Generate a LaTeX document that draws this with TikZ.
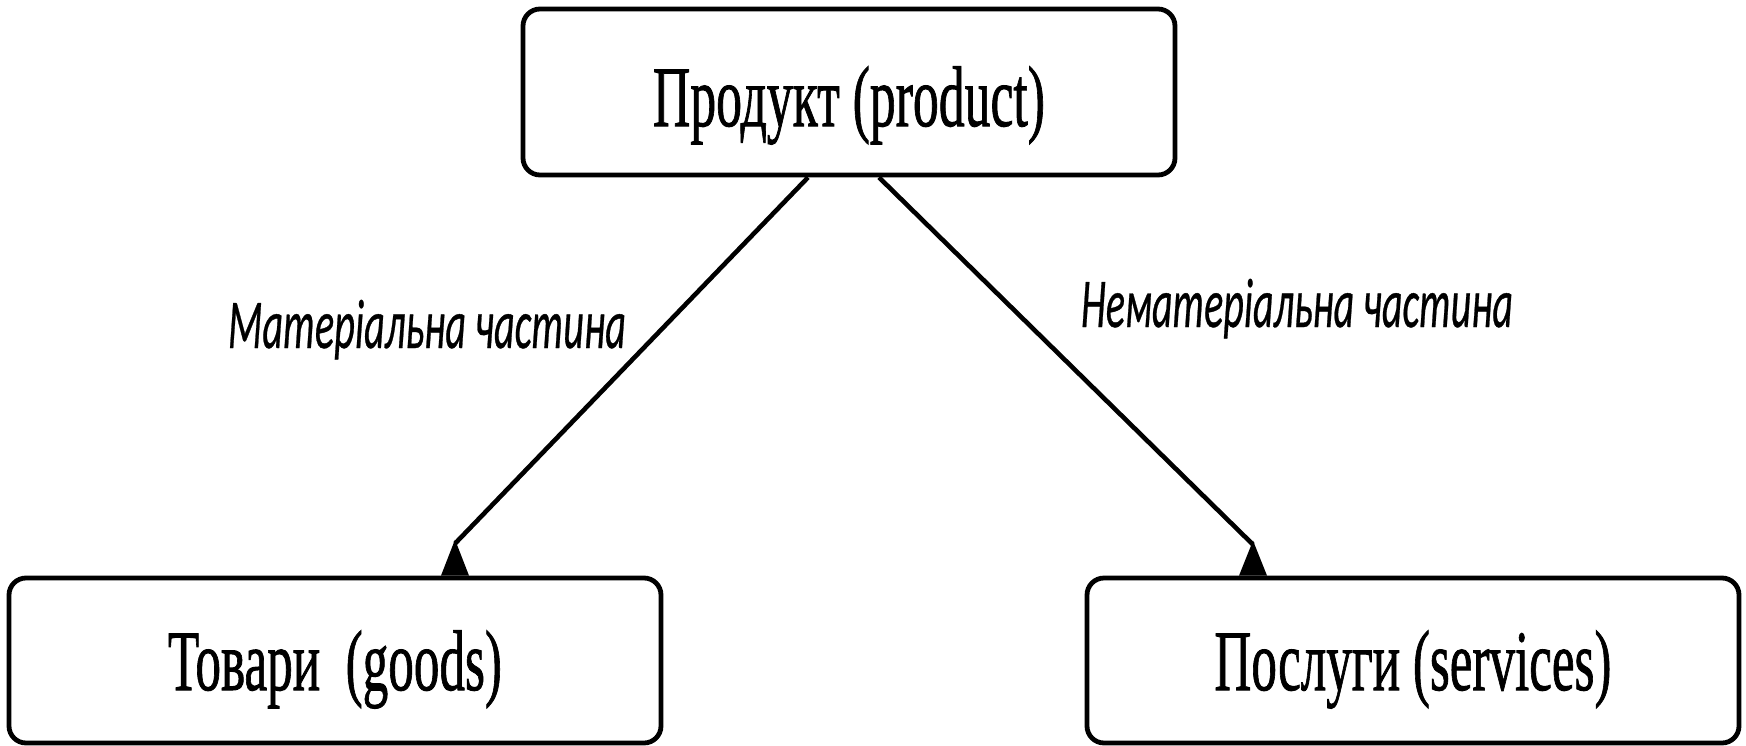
\documentclass[tikz,border=0pt]{standalone}
\usepackage{fontspec}
\usepackage{graphicx}
\setmainfont{Liberation Serif}
\newfontfamily\boxfont[FakeBold=1.2]{Liberation Serif}
\newfontfamily\labelfont[FakeBold=0.6]{Carlito}
\usetikzlibrary{calc}
\tikzset{
  box/.style={draw=black, line width=2.4pt, rounded corners=8.5pt, fill=white,
    minimum width=326pt, inner sep=0pt, align=center},
  conn/.style={draw=black, line width=2.3pt},
  lbl/.style={anchor=base, inner sep=0pt},
}
\begin{document}
\begin{tikzpicture}[x=0.5pt, y=-0.5pt]
\useasboundingbox (0,0) rectangle (1746,745);
\node[box, minimum height=83pt, text height=40pt, text depth=6pt] (top) at (849,92)
  {\resizebox{196pt}{\height}{\boxfont\fontsize{43}{50}\selectfont Продукт (product)}};
\node[box, minimum height=82.5pt, text height=40pt, text depth=10.5pt] (goods) at (335,660.5)
  {\resizebox{167pt}{\height}{\boxfont\fontsize{43}{50}\selectfont Товари \ (goods)}};
\node[box, minimum height=82.5pt, text height=40pt, text depth=10.5pt] (services) at (1413,660.5)
  {\resizebox{198.5pt}{\height}{\boxfont\fontsize{43}{50}\selectfont Послуги (services)}};
\coordinate (tipL) at ($(goods.north)+(120,-36)$);
\coordinate (tipR) at ($(services.north)+(-160,-35)$);
\draw[conn] ($(top.south)+(-41,0)$) -- ($(tipL)+(0,4)$);
\draw[conn] ($(top.south)+(30,0)$) -- ($(tipR)+(0,4)$);
\fill[black] (tipL) -- ($(goods.north)+(134,0)$) -- ($(goods.north)+(106,0)$) -- cycle;
\fill[black] (tipR) -- ($(services.north)+(-146,0)$) -- ($(services.north)+(-174,0)$) -- cycle;
\node[lbl] (matl) at (427,348)
  {\resizebox{199pt}{\height}{\labelfont\fontsize{35}{40}\selectfont\itshape Матеріальна частина}};
\node[lbl] (nematl) at (1297,327)
  {\resizebox{216pt}{\height}{\labelfont\fontsize{35}{40}\selectfont\itshape Нематеріальна частина}};
\end{tikzpicture}
\end{document}
